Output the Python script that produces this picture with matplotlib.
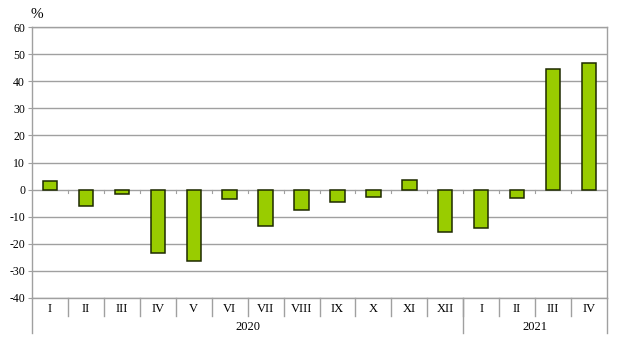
import matplotlib.pyplot as plt
import matplotlib.transforms as mtransforms

# data
months = ["I", "II", "III", "IV", "V", "VI", "VII", "VIII", "IX", "X", "XI", "XII",
          "I", "II", "III", "IV"]
values = [3.3, -5.9, -1.8, -23.5, -26.5, -3.6, -13.3, -7.5, -4.6, -2.7, 3.5, -15.5,
          -14.0, -3.1, 44.6, 46.9]
years = ["2020", "2021"]
year_counts = [12, 4]

plt.rcParams["font.family"] = ["Liberation Serif", "DejaVu Serif"]
plt.rcParams["font.size"] = 9
plt.rcParams["axes.unicode_minus"] = False

fig = plt.figure(figsize=(6.17, 3.53), dpi=100)
ax = fig.add_axes([32 / 617, 1 - 298 / 353, 575 / 617, 271 / 353])

grid_col = "#a0a0a0"
x = list(range(len(values)))
ax.bar(x, values, width=0.4, color="#99cc00", edgecolor="#1e2a00", linewidth=1.1, zorder=3)

ax.set_xlim(-0.5, len(values) - 0.5)
ax.set_ylim(-40, 60)
ax.set_yticks(range(-40, 61, 10))
ax.yaxis.grid(True, color=grid_col, linewidth=1.0, zorder=0)
ax.set_xticks([])
ax.tick_params(axis="y", length=3, color=grid_col, pad=2, labelsize=8.5)
for s in ax.spines.values():
    s.set_color(grid_col)
    s.set_linewidth(1.0)

# small ticks on the zero line between categories
for i in range(1, len(values)):
    ax.plot([i - 0.5, i - 0.5], [0, -1.2], color=grid_col, linewidth=0.8, zorder=2)

# category axis below the plot
trans = mtransforms.blended_transform_factory(ax.transData, ax.transAxes)
for i, m in enumerate(months):
    ax.text(i, -0.04, m, transform=trans, ha="center", va="center", fontsize=9)
for i in range(1, len(values)):
    ax.plot([i - 0.5, i - 0.5], [0, -0.066], transform=trans, color=grid_col,
            linewidth=1.0, clip_on=False)

start = 0
bounds = [-0.5]
for y, n in zip(years, year_counts):
    ax.text(start + (n - 1) / 2, -0.107, y, transform=trans, ha="center", va="center",
            fontsize=9)
    start += n
    bounds.append(start - 0.5)
for b in bounds:
    ax.plot([b, b], [0, -0.13], transform=trans, color=grid_col, linewidth=1.0,
            clip_on=False)

fig.text(37 / 617, 1 - 14 / 353, "%", ha="center", va="center", fontsize=11)

fig.savefig("out.png", dpi=100)
